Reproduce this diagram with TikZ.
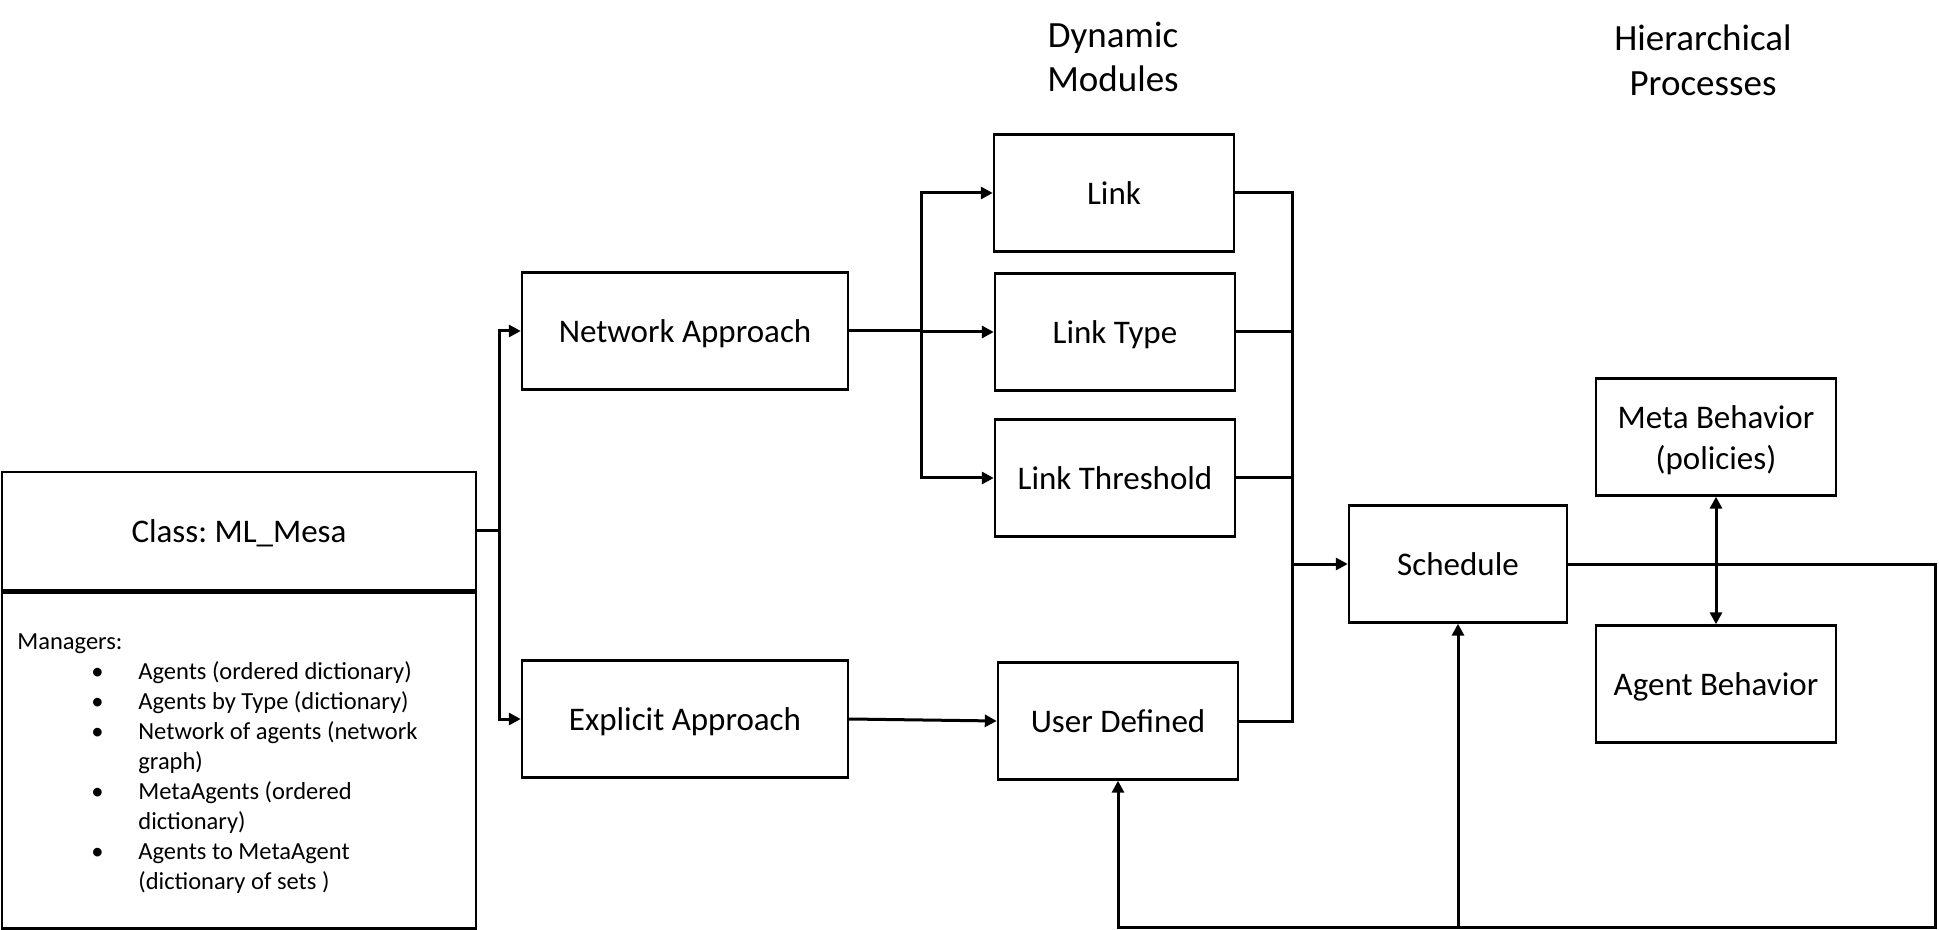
\documentclass[tikz,border=0pt]{standalone}
\usepackage{fontspec}
\setmainfont{Carlito}
\usetikzlibrary{arrows.meta}

\newcommand{\bitem}[1]{\hspace*{37pt}\makebox[23.5pt][l]{\textbullet}#1}
\newcommand{\bcont}[1]{\hspace*{60.5pt}#1}

\begin{document}
\frenchspacing
\begin{tikzpicture}[x=0.5pt,y=-0.5pt]
    \tikzstyle{box}=[draw,line width=1.2pt,minimum width=120pt,minimum height=58.5pt,inner sep=0pt,align=center,font=\fontsize{16.5}{20.4}\selectfont]
    \tikzstyle{sbox}=[box,text height=11.5pt,text depth=0pt]
    \tikzstyle{title}=[align=center,font=\fontsize{18.5}{22.3}\selectfont]
    \tikzstyle{line} = [draw,line width=1.5pt]
    \tikzstyle{edge} = [draw,line width=1.5pt,-{Triangle[length=6pt,width=6pt]}]
    \tikzstyle{edge2} = [draw,line width=1.5pt,{Triangle[length=6pt,width=6pt]}-{Triangle[length=6pt,width=6pt]}]

    \useasboundingbox (0,0) rectangle (1939,930);

    % class box
    \node[sbox,minimum width=237pt,minimum height=59pt] (cls) at (239,531) {Class: ML\_Mesa};
    \node[box,minimum width=237pt,minimum height=168pt,anchor=north] (mgr) at (cls.south) {};
    \draw[line width=2pt] (cls.south west) -- (cls.south east);
    \node[anchor=north west,inner sep=0pt,align=left,font=\fontsize{12.25}{15}\selectfont] (lst) at (17,633) {%
        Managers:\\
        \bitem{Agents (ordered dictionary)}\\
        \bitem{Agents by Type (dictionary)}\\
        \bitem{Network of agents (network}\\
        \bcont{graph)}\\
        \bitem{MetaAgents (ordered}\\
        \bcont{dictionary)}\\
        \bitem{Agents to MetaAgent}\\
        \bcont{(dictionary of sets )}};

    \node[sbox,minimum width=163pt] (net) at (685,331) {Network Approach};
    \node[sbox,minimum width=163pt] (exp) at (685,719) {Explicit Approach};

    \node[title] (dm) at (1113,57) {Dynamic\\Modules};
    \node[sbox] (link) at (1114,193) {Link};
    \node[sbox] (ltype) at (1115,332) {Link Type};
    \node[sbox] (lthr) at (1115,478) {Link Threshold};
    \node[sbox] (user) at (1118,721) {User Defined};

    \node[sbox,minimum width=109pt] (sched) at (1458,564) {Schedule};

    \node[title] (hp) at (1703,60) {Hierarchical\\Processes};
    \node[box,text height=36.3pt,text depth=4.1pt] (meta) at (1716,437) {Meta Behavior\\(policies)};
    \node[sbox] (agent) at (1716,684) {Agent Behavior};

    \coordinate (j1) at (499,531);
    \coordinate (j2) at (921,331);
    \coordinate (j3) at (1292,564);
    \coordinate (c1) at (1935,927);

    \path[line] (cls.east) -- (j1);
    \path[edge] (j1) |- (net.west);
    \path[edge] (j1) |- (exp.west);

    \path[line] (net.east) -- (j2);
    \path[edge] (j2) |- (link.west);
    \path[edge] (j2) |- (ltype.west);
    \path[edge] (j2) |- (lthr.west);
    \path[edge] (exp.east) -- (user.west);

    \path[line] (link.east) -| (j3);
    \path[line] (ltype.east) -| (j3);
    \path[line] (lthr.east) -| (j3);
    \path[line] (user.east) -| (j3);
    \path[edge] (j3) -- (sched.west);

    % feedback loop
    \path[edge] (sched.east) -| (c1) -| (user.south);
    \path[edge] (sched.south |- c1) -- (sched.south);

    \path[edge2] (meta.south) -- (agent.north);
\end{tikzpicture}
\end{document}
